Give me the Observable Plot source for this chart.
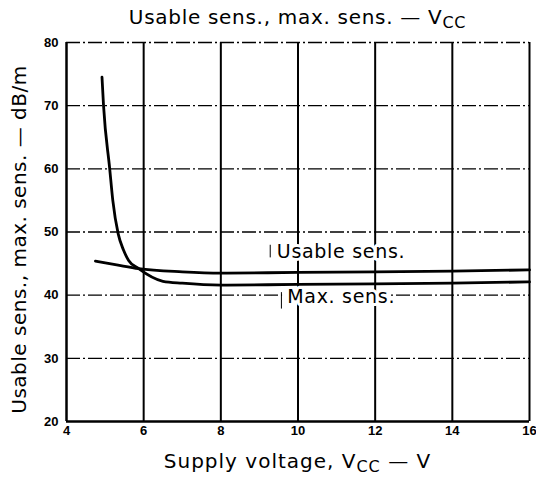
<!DOCTYPE html>
<html><head><meta charset="utf-8">
<script src="https://cdn.jsdelivr.net/npm/d3@7"></script>
<script src="https://cdn.jsdelivr.net/npm/@observablehq/plot@0.6"></script>
<style>
body{margin:0;background:#fff;font-family:"DejaVu Sans",sans-serif;}
</style></head>
<body><div id="chart"></div>
<script>
// Data
const usableX = [4.75, 5.3, 5.87, 7, 8, 10, 12, 14, 16];
const usableY = [45.4, 44.8, 44.2, 43.7, 43.5, 43.6, 43.7, 43.8, 44.0];
const maxX = [4.92, 4.96, 5.12, 5.20, 5.34, 5.48, 5.61, 5.87, 6.5, 7, 8, 10, 12, 14, 16];
const maxY = [74.5, 70, 60, 55, 49.7, 47.1, 45.5, 44.2, 42.2, 41.9, 41.6, 41.7, 41.8, 41.9, 42.1];
const xTicks = [4, 6, 8, 10, 12, 14, 16];
const yTicks = [20, 30, 40, 50, 60, 70, 80];
const vGrid = [6, 8, 10, 12, 14];
const hGrid = [30, 40, 50, 60, 70];
const labelText = ["Usable sens.", "Max. sens."];
const labelX = [9.45, 9.72];
const labelY = [46.8, 39.7];
const leaderX = [9.28, 9.57];
const leaderY1 = [47.9, 40.4];
const leaderY2 = [45.9, 37.8];
// the gridline gap behind the "Max. sens." label
const gapY = [40];
const gapX1 = [9.6];
const gapX2 = [12.4];

const usable = usableX.map((x, i) => ({x, y: usableY[i]}));
const maxs = maxX.map((x, i) => ({x, y: maxY[i]}));
const labels = labelText.map((t, i) => ({t, x: labelX[i], y: labelY[i]}));
const leaders = leaderX.map((x, i) => ({x, y1: leaderY1[i], y2: leaderY2[i]}));
const gaps = gapY.map((y, i) => ({y, x1: gapX1[i], x2: gapX2[i]}));

const FONT = '"DejaVu Sans", sans-serif';
const dash = "14,3,2,3";
const plot = Plot.plot({
  width: 536, height: 482,
  marginTop: 42, marginBottom: 61, marginLeft: 66, marginRight: 7,
  style: {fontFamily: FONT, background: "#fff", color: "#000"},
  x: {domain: [4, 16], ticks: xTicks, tickSize: 0, tickPadding: 4, label: null},
  y: {domain: [20, 80], ticks: yTicks, tickSize: 0, tickPadding: 8, label: null},
  marks: [
    Plot.ruleY(hGrid, {stroke: "#000", strokeWidth: 1.3, strokeDasharray: dash}),
    Plot.ruleY([80], {stroke: "#000", strokeWidth: 1.3, strokeDasharray: dash}),
    Plot.ruleY(gaps, {y: "y", x1: "x1", x2: "x2", stroke: "#fff", strokeWidth: 4}),
    Plot.ruleX(vGrid, {stroke: "#000", strokeWidth: 2}),
    Plot.ruleX([4], {stroke: "#000", strokeWidth: 2.5}),
    Plot.ruleX([16], {stroke: "#000", strokeWidth: 2}),
    Plot.ruleY([20], {stroke: "#000", strokeWidth: 2.5}),
    Plot.line(usable, {x: "x", y: "y", stroke: "#000", strokeWidth: 2.8, curve: "monotone-x"}),
    Plot.line(maxs, {x: "x", y: "y", stroke: "#000", strokeWidth: 2.8, curve: "monotone-x"}),
    Plot.text(labels, {x: "x", y: "y", text: "t", textAnchor: "start", fontSize: 19, fill: "#000",
      stroke: "#fff", strokeWidth: 6}),
    Plot.ruleX(leaders, {x: "x", y1: "y1", y2: "y2", stroke: "#000", strokeWidth: 1})
  ]
});
document.getElementById("chart").appendChild(plot);

const svg = d3.select(plot);
svg.selectAll("g[aria-label='x-axis tick label'] text, g[aria-label='y-axis tick label'] text")
  .style("font-weight", "bold").style("font-size", "13px")
  .style("font-family", '"Liberation Sans Narrow","Liberation Sans",Arial,sans-serif');
svg.selectAll("g[aria-label='text'] text").style("letter-spacing", "0.7px");

const xs = plot.scale("x"), ys = plot.scale("y");
const cx = (xs.range[0] + xs.range[1]) / 2;
const cy = (ys.range[0] + ys.range[1]) / 2;

const title = svg.append("text").attr("x", cx).attr("y", 24).attr("text-anchor", "middle")
  .attr("font-size", 20).attr("fill", "#000").attr("font-family", FONT).style("letter-spacing", "0.7px");
title.append("tspan").text("Usable sens., max. sens. — V");
title.append("tspan").attr("font-size", "16").attr("dy", "4").text("CC");

const xl = svg.append("text").attr("x", cx).attr("y", 468).attr("text-anchor", "middle")
  .attr("font-size", 20).attr("fill", "#000").attr("font-family", FONT).style("letter-spacing", "1px");
xl.append("tspan").text("Supply voltage, V");
xl.append("tspan").attr("font-size", "16").attr("dy", "4").text("CC");
xl.append("tspan").attr("dy", "-4").text(" — V");

svg.append("text").attr("transform", `translate(26,${cy + 8}) rotate(-90)`).attr("text-anchor", "middle")
  .attr("font-size", 20).attr("fill", "#000").attr("font-family", FONT).style("letter-spacing", "0.5px")
  .text("Usable sens., max. sens. — dB/m");
</script></body></html>
